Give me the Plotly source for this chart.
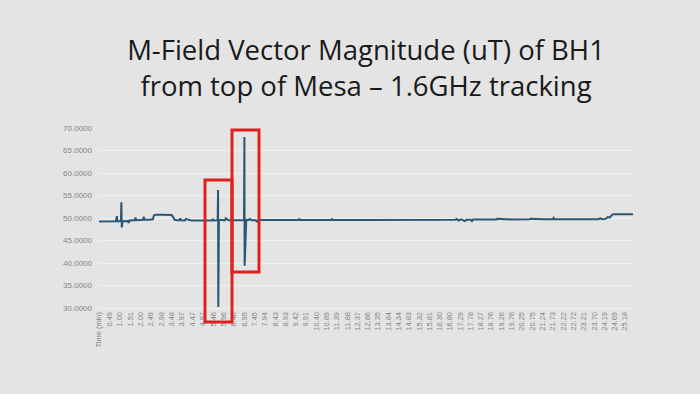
import plotly.graph_objects as go

# ---- data ----
time_min = [0.00, 0.20, 0.40, 0.60, 0.80, 0.86, 0.88, 0.92, 1.00, 1.05, 1.07, 1.09, 1.13,
            1.25, 1.38, 1.42, 1.46, 1.60, 1.72, 1.75, 1.78, 1.95, 2.10, 2.14, 2.18, 2.40,
            2.58, 2.63, 2.72, 3.00, 3.30, 3.48, 3.55, 3.62, 3.75, 3.86, 3.89, 3.93, 4.05,
            4.12, 4.16, 4.40, 4.80, 5.20, 5.40, 5.44, 5.48, 5.60, 5.68, 5.70, 5.71, 5.74,
            5.85, 5.95, 6.03, 6.07, 6.20, 6.50, 6.80, 6.94, 6.96, 6.97, 7.05, 7.15, 7.22,
            7.30, 7.42, 7.50, 7.56, 7.62, 7.80, 8.30, 9.00, 9.54, 9.58, 9.62, 10.40, 11.12,
            11.15, 11.19, 12.50, 14.00, 15.50, 17.05, 17.12, 17.20, 17.35, 17.50, 17.60,
            17.80, 17.85, 17.90, 18.50, 19.02, 19.06, 19.80, 20.60, 20.65, 21.30, 21.72,
            21.76, 21.80, 22.50, 23.30, 23.90, 24.00, 24.10, 24.25, 24.35, 24.45, 24.55,
            24.65, 24.75, 25.10, 25.56]
magnitude_uT = [49.20, 49.25, 49.20, 49.30, 49.30, 50.40, 49.30, 49.25, 49.30, 49.40, 53.50, 47.90, 49.30,
                49.40, 49.35, 48.90, 49.45, 49.50, 49.50, 50.10, 49.50, 49.55, 49.60, 50.30, 49.60, 49.60,
                49.70, 50.60, 50.70, 50.75, 50.70, 50.65, 50.20, 49.60, 49.50, 49.50, 49.90, 49.50, 49.45,
                49.50, 49.80, 49.45, 49.45, 49.45, 49.45, 49.80, 49.45, 49.50, 49.55, 56.20, 30.20, 49.50,
                49.60, 49.50, 49.50, 49.95, 49.50, 49.50, 49.50, 49.55, 68.00, 39.40, 49.60, 49.50, 49.80,
                49.50, 49.55, 49.45, 49.20, 49.55, 49.55, 49.55, 49.55, 49.55, 49.75, 49.55, 49.55, 49.55,
                49.85, 49.55, 49.55, 49.55, 49.60, 49.60, 49.80, 49.45, 49.70, 49.30, 49.60,
                49.60, 49.30, 49.65, 49.65, 49.65, 49.85, 49.65, 49.70, 49.85, 49.70, 49.70,
                50.00, 49.70, 49.70, 49.75, 49.75, 49.95, 49.75, 49.80, 50.20, 50.10, 50.70,
                50.85, 50.85, 50.85, 50.85]

tick_values = [0.00, 0.49, 1.00, 1.51, 2.00, 2.49, 2.98, 3.48, 3.97, 4.47, 4.97, 5.46, 5.96,
               6.46, 6.95, 7.45, 7.94, 8.43, 8.93, 9.42, 9.91, 10.40, 10.89, 11.39, 11.88,
               12.37, 12.86, 13.35, 13.84, 14.34, 14.83, 15.32, 15.81, 16.30, 16.80, 17.29,
               17.78, 18.27, 18.76, 19.26, 19.76, 20.25, 20.75, 21.24, 21.73, 22.22, 22.72,
               23.21, 23.70, 24.19, 24.69, 25.18]
tick_labels = ["Time (min)"] + ["%.2f" % v for v in tick_values[1:]]

y_ticks = [30, 35, 40, 45, 50, 55, 60, 65, 70]

title_text = "M-Field Vector Magnitude (uT) of BH1<br>from top of Mesa – 1.6GHz tracking"

# ---- figure ----
W, H = 700, 394
L, R, T, B = 99, 67, 128, 86
BG = "#e4e4e4"

fig = go.Figure()
fig.add_trace(go.Scatter(
    x=time_min, y=magnitude_uT, mode="lines",
    line=dict(color="#2a5874", width=2),
    hoverinfo="skip", showlegend=False,
))

def px_to_paper(px, py):
    return (px - L) / (W - L - R), (H - B - py) / (H - T - B)

boxes_px = [(205, 180, 232, 322), (232, 130, 259, 272)]
for x0p, y0p, x1p, y1p in boxes_px:
    x0, y1 = px_to_paper(x0p, y0p)
    x1, y0 = px_to_paper(x1p, y1p)
    fig.add_shape(type="rect", xref="paper", yref="paper",
                  x0=x0, x1=x1, y0=y0, y1=y1,
                  line=dict(color="#e0201f", width=3), fillcolor="rgba(0,0,0,0)")

fig.update_layout(
    width=W, height=H,
    margin=dict(l=L, r=R, t=T, b=B),
    paper_bgcolor=BG, plot_bgcolor=BG,
    title=dict(text=title_text, x=0.5, xanchor="center", xref="paper",
               y=(H - 60) / H, yref="container", yanchor="middle",
               font=dict(family="Open Sans", size=27.5, color="#1a1a1a")),
    xaxis=dict(range=[0, 25.56], tickmode="array", tickvals=tick_values, ticktext=tick_labels,
               tickangle=-90, tickfont=dict(family="Liberation Sans", size=7.5, color="#858585"),
               showgrid=False, zeroline=False, showline=True, linecolor="#efefef", linewidth=1,
               ticks=""),
    yaxis=dict(range=[30, 70], tickmode="array", tickvals=y_ticks,
               ticktext=["%.4f" % v for v in y_ticks],
               tickfont=dict(family="Liberation Sans", size=8, color="#858585"),
               showgrid=True, gridcolor="#efefef", gridwidth=1, zeroline=False,
               showline=False, ticks="", ticklabelstandoff=6),
)

fig.write_html("out.html", config={"displayModeBar": False},
               post_script="document.body.style.margin='0';document.body.style.background='%s';" % BG)
